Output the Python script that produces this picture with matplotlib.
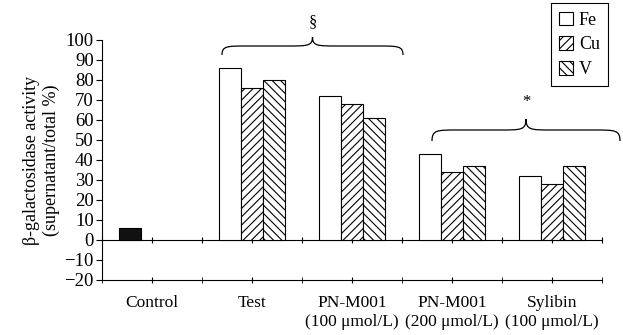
import numpy as np
import matplotlib
matplotlib.use("Agg")
import matplotlib.pyplot as plt
from matplotlib.path import Path
from matplotlib.patches import PathPatch

plt.rcParams['font.family'] = ['Liberation Serif', 'DejaVu Serif']
plt.rcParams['hatch.linewidth'] = 0.8

categories = ['Control', 'Test', 'PN-M001\n(100 μmol/L)', 'PN-M001\n(200 μmol/L)', 'Sylibin\n(100 μmol/L)']
control = [6]
fe = [86, 72, 43, 32]
cu = [76, 68, 34, 28]
v = [80, 61, 37, 37]
series = ['Fe', 'Cu', 'V']
hatches = ['', '////', '\\\\\\\\']

fig = plt.figure(figsize=(6.23, 3.35), dpi=100)
ax = fig.add_axes([102/623, 55/335, 500/623, 240/335])

w = 0.22
x = np.arange(1, 5)
ax.bar(0 - w, control, w, color='#111111', edgecolor='black', lw=0.8)
for k, (vals, h, lab) in enumerate(zip([fe, cu, v], hatches, series)):
    ax.bar(x + (k - 1) * w, vals, w, facecolor='white', edgecolor='black',
           hatch=h, lw=0.8, label=lab)

ax.set_xlim(-0.5, 4.5)
ax.set_ylim(-20, 100)
ax.set_yticks(np.arange(-20, 101, 10))
ax.set_yticklabels(['\u221220', '\u221210'] + [str(t) for t in range(0, 101, 10)])
ax.set_xticks(np.arange(0, 5))
ax.set_xticklabels(categories, linespacing=1.25)
ax.set_xticks(np.arange(-0.5, 4.51, 1), minor=True)
ax.tick_params(axis='x', which='both', length=4, direction='inout', pad=9, labelsize=12.5)
ax.tick_params(axis='y', labelsize=13.5, length=4, pad=2)
for s in ['top', 'right']:
    ax.spines[s].set_visible(False)

# axis line at zero
sec = ax.secondary_xaxis(1/6)
sec.set_xticks(np.arange(-0.5, 4.51, 0.5))
sec.set_xticklabels([])
sec.tick_params(length=4, direction='inout')

ax.set_ylabel('β-galactosidase activity\n(supernatant/total %)', fontsize=13, labelpad=3)

ax.legend(loc='upper right', bbox_to_anchor=(1.03, 1.19), fontsize=13, fancybox=False,
          edgecolor='black', framealpha=1, handlelength=0.8, handleheight=0.8,
          handletextpad=0.3, borderpad=0.45, labelspacing=0.42).get_frame().set_linewidth(0.8)


def brace(x0, x1, y, h, label, ty):
    xm = (x0 + x1) / 2
    verts = [(x0, y - h),
             (x0, y), (x0 + 0.05, y), (x0 + 0.25, y),
             (xm - 0.25, y),
             (xm - 0.05, y), (xm, y), (xm, y + h),
             (xm, y), (xm + 0.05, y), (xm + 0.25, y),
             (x1 - 0.25, y),
             (x1 - 0.05, y), (x1, y), (x1, y - h)]
    codes = [Path.MOVETO] + [Path.CURVE4] * 3 + [Path.LINETO] + [Path.CURVE4] * 6 \
        + [Path.LINETO] + [Path.CURVE4] * 3
    ax.add_patch(PathPatch(Path(verts, codes), fill=False, lw=0.9, clip_on=False))
    ax.text(xm, ty, label, ha='center', va='center', fontsize=12, clip_on=False)


brace(0.7, 2.51, 97, 4.5, '§', 109)
brace(2.8, 4.68, 55, 5.5, '*', 69)

fig.savefig('out.png', dpi=100)
